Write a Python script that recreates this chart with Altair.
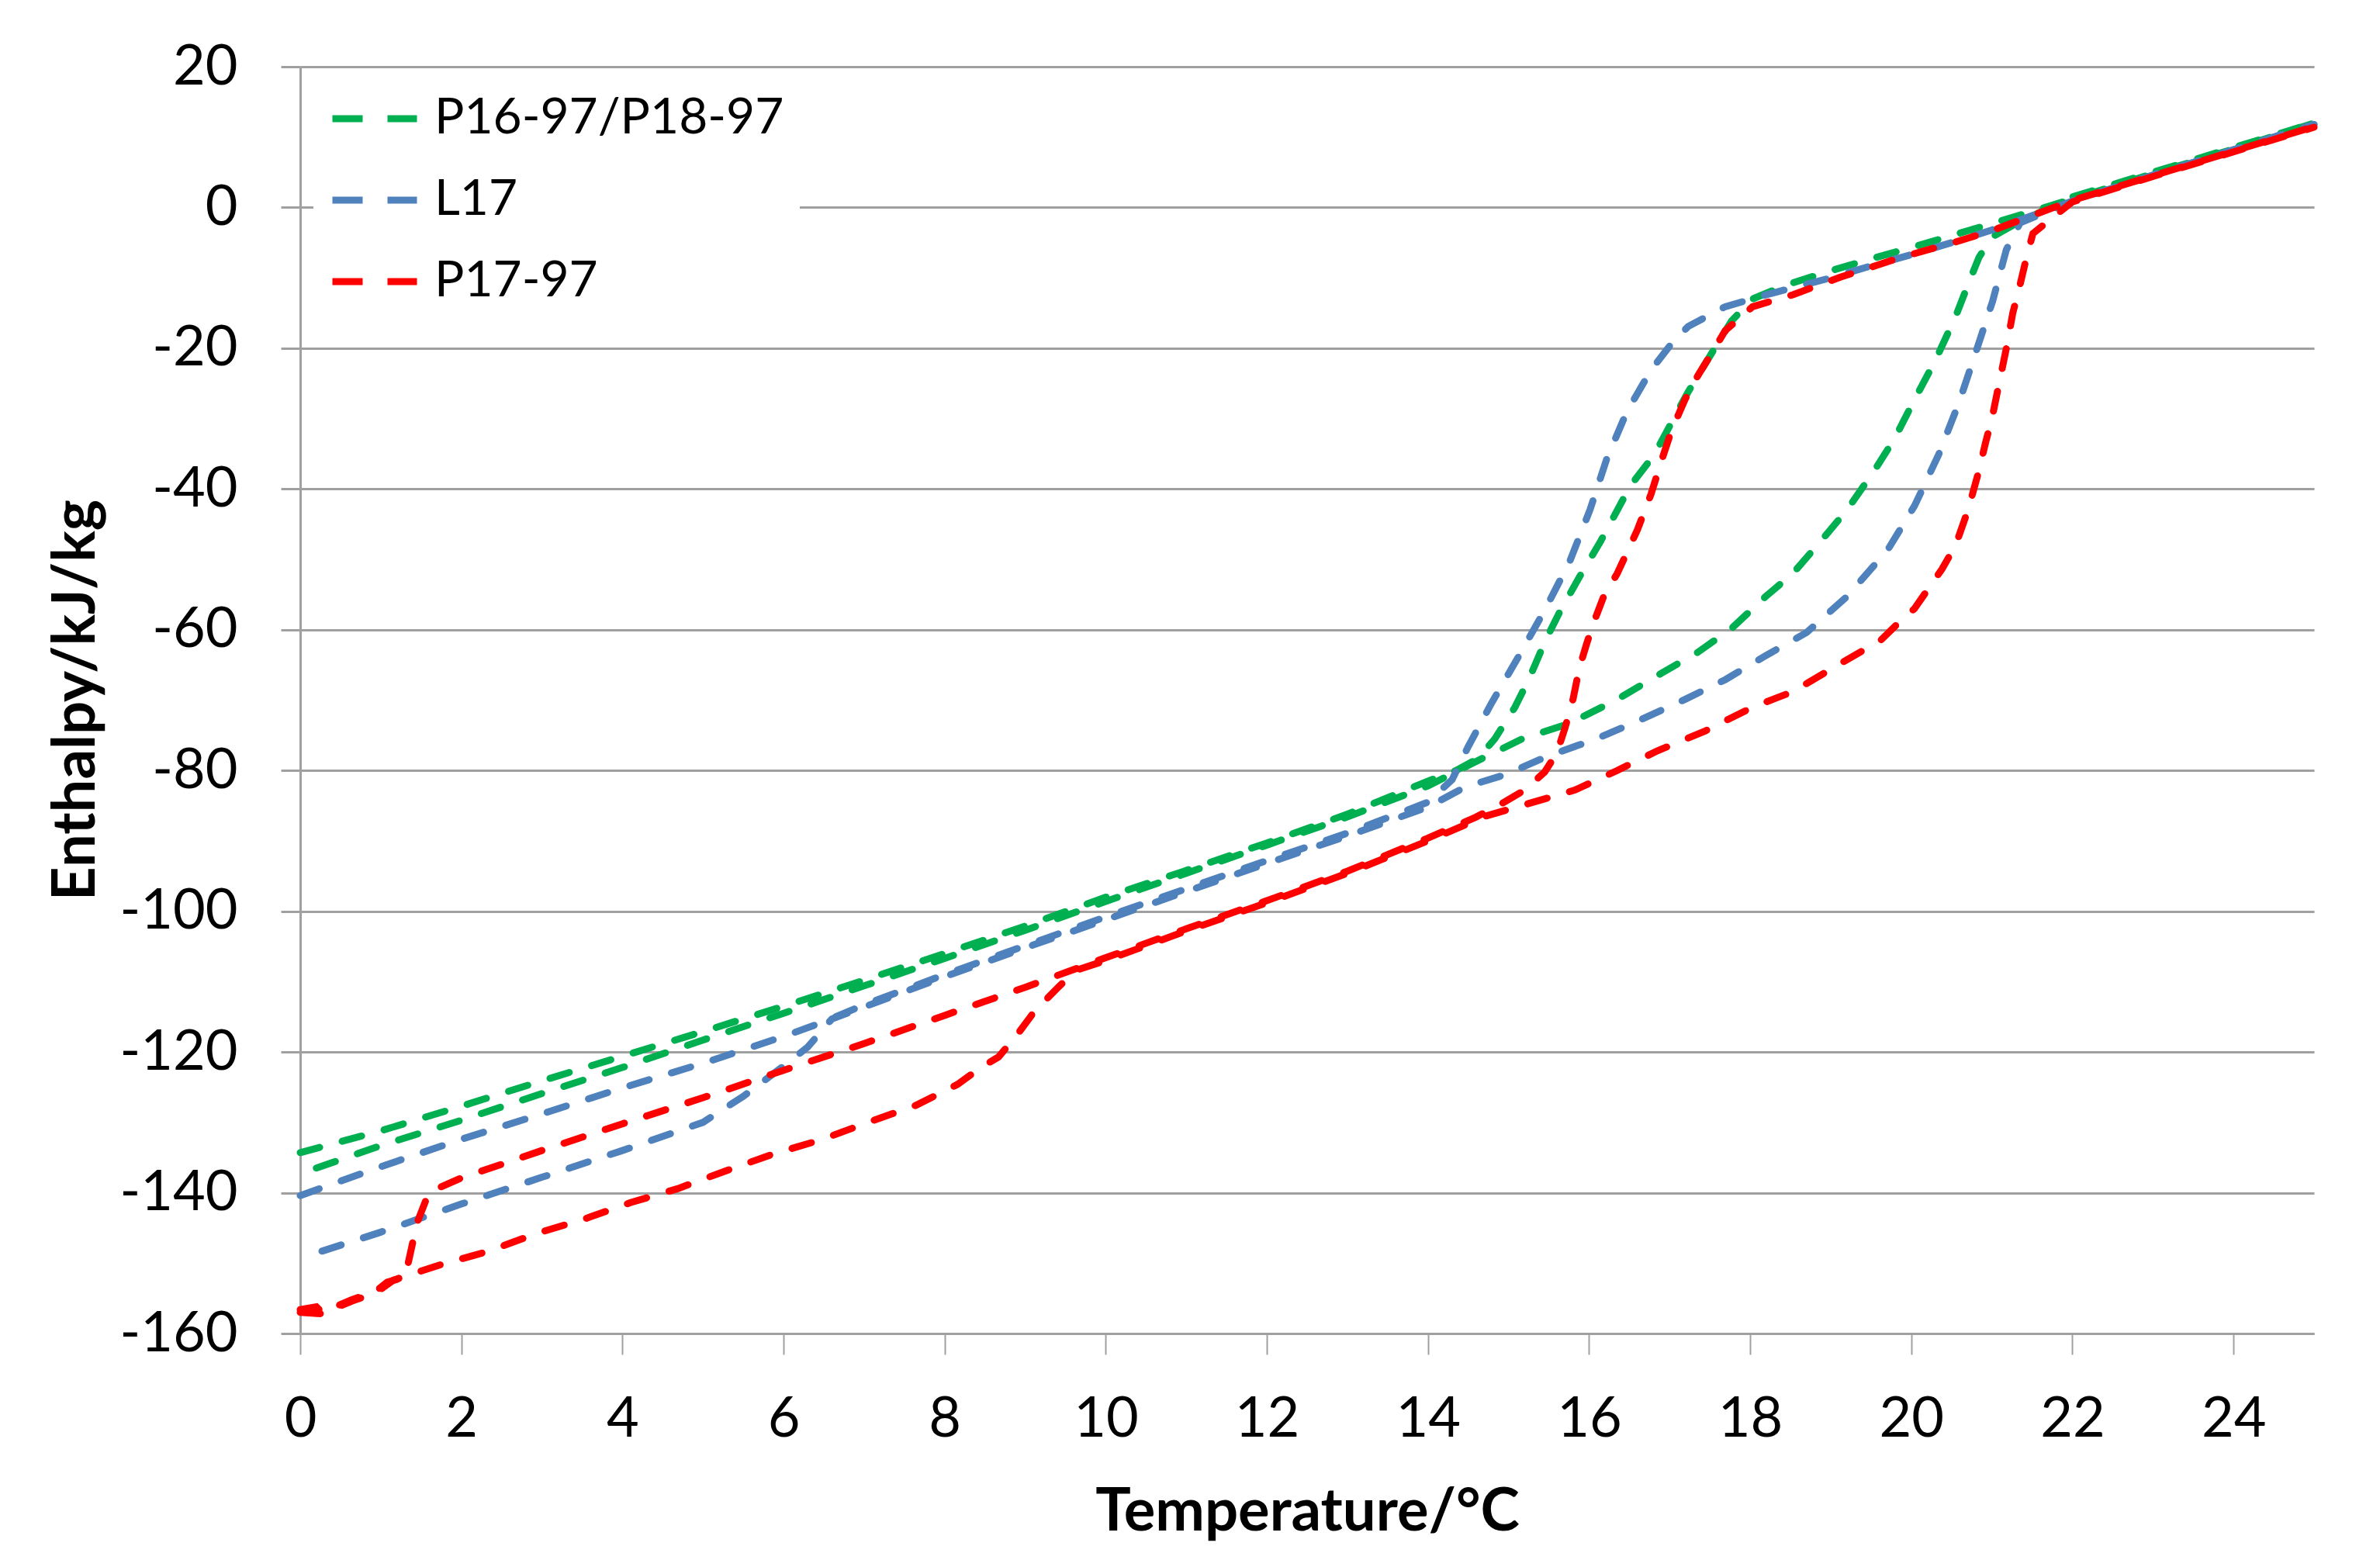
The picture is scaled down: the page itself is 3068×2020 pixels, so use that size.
import altair as alt
import pandas as pd

# ---- data ----
materials = ["P16-97/P18-97", "L17", "P17-97"]
colors = ["#00B050", "#4F81BD", "#FF0000"]

# P16-97/P18-97 (green)
green_a_T = [0, 1, 2, 3, 4, 5, 6, 7, 8, 9, 10, 11, 12, 13, 14, 14.35, 14.62, 14.83, 15.08, 15.25,
             15.46, 15.63, 15.88, 16.14, 16.51, 16.81, 17.23, 17.56, 17.77, 18.03, 18.45, 19.0, 19.5,
             20.0, 20.5, 21.0, 22.0, 23.0, 24.0, 25.0]
green_a_H = [-134.3, -131.2, -127.7, -124.1, -120.6, -117.1, -113.5, -109.8, -106.0, -102.1, -98.0,
             -94.2, -90.3, -86.2, -81.5, -80.0, -78.3, -75.5, -71.0, -67.1, -61.5, -57.6, -52.5,
             -47.5, -39.6, -35.1, -26.2, -20.0, -16.1, -13.0, -11.0, -9.0, -7.3, -5.7, -4.0, -2.3,
             1.2, 4.8, 8.3, 12.0]
green_b_T = [0.2, 1, 2, 3, 4, 5, 6, 7, 8, 9, 10, 11, 12, 13, 14, 14.6, 15.17, 15.76, 16.35, 16.85,
             17.35, 17.77, 18.19, 18.53, 18.87, 19.2, 19.54, 19.79, 20.04, 20.3, 20.55, 20.72, 20.84,
             21.0, 21.3, 22.0, 23.0, 24.0, 25.0]
green_b_H = [-136.5, -133.3, -129.7, -125.9, -122.2, -118.3, -114.5, -110.6, -106.7, -102.7, -98.6,
             -94.6, -90.6, -86.6, -82.2, -78.7, -75.5, -73.3, -69.9, -66.5, -63.2, -59.8, -55.3,
             -52.0, -47.5, -43.0, -37.4, -32.9, -27.3, -21.7, -15.5, -10.5, -7.1, -4.2, -2.3, 1.5,
             5.0, 8.5, 12.0]

# L17 (blue)
blue_a_T = [0, 1, 2, 3, 4, 5, 6, 6.5, 7, 8, 9, 10, 11, 12, 13, 14, 14.3, 14.5, 14.79, 15.13, 15.46,
            15.76, 16.01, 16.22, 16.47, 16.77, 17.02, 17.23, 17.69, 18.2, 19, 19.5, 20, 20.5, 21,
            22, 23, 24, 25]
blue_a_H = [-140.4, -136.3, -132.4, -128.8, -125.1, -121.6, -117.8, -115.7, -113.3, -109.0, -104.9,
            -100.8, -96.8, -92.8, -88.9, -84.5, -81.3, -76.6, -70.4, -63.7, -57.0, -50.3, -43.0,
            -35.7, -29.0, -23.1, -19.4, -16.9, -14.1, -12.4, -10.0, -8.3, -6.7, -5.0, -3.2, 0.9,
            4.6, 8.2, 11.8]
blue_b_T = [0.27, 1, 2, 3, 4, 5, 5.5, 6, 6.3, 6.6, 7, 8, 9, 10, 11, 12, 13, 14, 14.47, 14.96, 15.5,
            16.09, 16.6, 17.19, 17.69, 18.19, 18.7, 19.2, 19.71, 20.04, 20.34, 20.59, 20.8, 21.01,
            21.18, 21.35, 22, 23, 24, 25]
blue_b_H = [-148.3, -145.6, -141.6, -137.8, -134.0, -130.0, -126.3, -122.0, -119.3, -115.3, -113.6,
            -109.3, -105.2, -101.2, -97.2, -93.2, -89.3, -85.2, -82.3, -80.6, -77.9, -75.5, -73.0,
            -69.9, -67.1, -63.7, -60.4, -55.3, -48.6, -42.4, -35.1, -27.8, -20.6, -13.3, -6.0,
            -2.2, 0.9, 4.6, 8.2, 11.8]

# P17-97 (red)
red_a_T = [0, 0.2, 0.27, 0.64, 0.94, 1.08, 1.3, 1.35, 1.45, 1.6, 2, 3, 4, 5, 6, 7, 8, 9, 10, 11, 12,
           13, 14, 14.6, 14.9, 15.2, 15.45, 15.6, 15.7, 15.8, 15.88, 15.97, 16.05, 16.18, 16.35,
           16.6, 16.77, 16.89, 17.02, 17.19, 17.35, 17.56, 17.69, 18.03, 18.53, 19.12, 19.87,
           20.55, 21.0, 22, 23, 24, 25]
red_a_H = [-156.6, -156.2, -157.0, -155.2, -154.0, -152.7, -152.0, -149.5, -144.3, -139.9, -137.9,
           -134.0, -130.2, -126.5, -122.6, -118.8, -114.8, -110.8, -106.6, -102.5, -98.5, -94.3,
           -89.6, -86.6, -84.8, -82.8, -80.2, -77.5, -74.0, -69.9, -65.4, -62.0, -59.2, -55.3,
           -52.0, -45.8, -40.7, -36.3, -31.8, -27.3, -23.9, -20.0, -17.5, -14.1, -12.4, -9.9,
           -7.1, -4.9, -3.3, 1.0, 4.5, 8.0, 11.5]
red_b_T = [0, 0.27, 0.64, 0.94, 1.16, 1.75, 2.34, 2.93, 3.51, 4.1, 4.69, 5.28, 5.87, 6.46, 7.05,
           7.64, 8.16, 8.45, 8.67, 8.89, 9.11, 9.41, 9.63, 10, 11, 12, 13, 14, 14.71, 15.82, 16.35,
           16.85, 17.44, 18.03, 18.53, 19.12, 19.62, 19.87, 20.04, 20.21, 20.38, 20.55, 20.67,
           20.76, 20.84, 20.92, 21.01, 21.09, 21.18, 21.26, 21.35, 21.43, 21.51, 22, 23, 24, 25]
red_b_H = [-157.0, -157.2, -155.4, -154.2, -152.4, -150.2, -148.3, -145.8, -143.8, -141.4, -139.4,
           -136.9, -134.5, -132.5, -130.0, -127.6, -124.6, -122.2, -120.7, -117.7, -114.3, -110.8,
           -108.4, -107.0, -102.8, -98.8, -94.6, -90.0, -86.5, -82.8, -80.0, -77.2, -74.4, -71.0,
           -68.8, -64.8, -61.5, -58.7, -57.0, -54.2, -51.4, -48.0, -44.1, -40.7, -37.4, -33.5,
           -29.5, -25.0, -20.0, -15.0, -11.0, -7.1, -3.7, 0.8, 4.4, 7.9, 11.4]

x_ticks = list(range(0, 25, 2))
y_ticks = list(range(-160, 21, 20))

curves = [
    (materials[0], "a", green_a_T, green_a_H),
    (materials[0], "b", green_b_T, green_b_H),
    (materials[1], "a", blue_a_T, blue_a_H),
    (materials[1], "b", blue_b_T, blue_b_H),
    (materials[2], "a", red_a_T, red_a_H),
    (materials[2], "b", red_b_T, red_b_H),
]
rows = []
for m, c, ts, hs in curves:
    for i, (t, h) in enumerate(zip(ts, hs)):
        rows.append({"material": m, "curve": m + "_" + c, "i": i, "T": t, "H": h})
df = pd.DataFrame(rows)

FONT = "Lato"
GRID = "#A0A0A0"

chart = alt.Chart(df).mark_line(
    strokeWidth=9, strokeDash=[26, 30], strokeCap="round"
).encode(
    x=alt.X("T:Q", scale=alt.Scale(domain=[0, 25], nice=False, zero=False),
            axis=alt.Axis(values=x_ticks, title="Temperature/°C", grid=False,
                          labelExpr="'' + datum.value", labelFlush=False,
                          tickSize=27, tickColor=GRID, tickWidth=2,
                          domainColor=GRID, domainWidth=3,
                          labelPadding=48, labelFontSize=72, labelFont=FONT, labelColor="#000",
                          titleFontSize=76, titleFont=FONT, titleFontWeight="bold",
                          titleColor="#000", titleY=193)),
    y=alt.Y("H:Q", scale=alt.Scale(domain=[-160, 20], nice=False, zero=False),
            axis=alt.Axis(values=y_ticks, title="Enthalpy/kJ/kg", grid=True,
                          gridColor=GRID, gridWidth=3,
                          labelExpr="'' + datum.value", labelFlush=False,
                          tickSize=25, tickColor=GRID, tickWidth=3,
                          domainColor=GRID, domainWidth=3,
                          labelPadding=56, labelFontSize=72, labelFont=FONT, labelColor="#000",
                          titleFontSize=76, titleFont=FONT, titleFontWeight="bold",
                          titleColor="#000", titleX=-250, titleY=816)),
    color=alt.Color("material:N",
                    scale=alt.Scale(domain=materials, range=colors),
                    legend=alt.Legend(title=None, orient="none", legendX=17, legendY=14,
                                      fillColor="white", padding=20,
                                      symbolType="stroke", symbolSize=11881,
                                      symbolStrokeWidth=9, symbolDash=[39, 32],
                                      clipHeight=66, rowPadding=39, labelOffset=18,
                                      labelLimit=0,
                                      labelFontSize=64, labelFont=FONT, labelColor="#000")),
    detail="curve:N",
    order="i:Q",
).properties(
    width=2596, height=1633,
    autosize=alt.AutoSizeParams(type="none"),
    padding={"left": 379, "top": 78, "right": 77, "bottom": 282},
).configure_view(stroke=None)

chart.save("out.html", embed_options={"renderer": "svg", "actions": False})
